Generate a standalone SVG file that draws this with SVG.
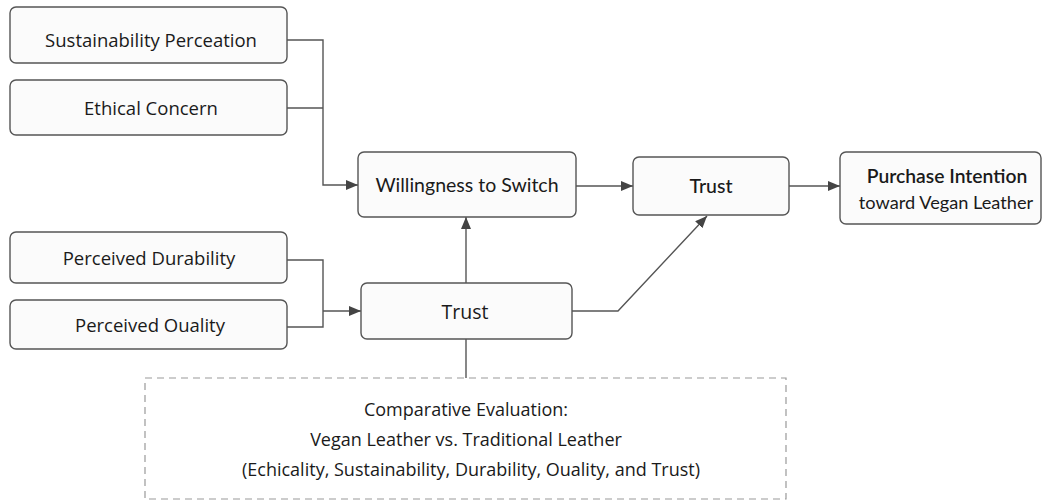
<svg xmlns="http://www.w3.org/2000/svg" width="1044" height="503" viewBox="0 0 1044 503">
  <defs>
    <marker id="arrow" viewBox="0 0 12 10" refX="12" refY="5" markerWidth="12" markerHeight="10" markerUnits="userSpaceOnUse" orient="auto">
      <path d="M0,0 L12,5 L0,10 Z" fill="#444"/>
    </marker>
    <style>
      .box { fill: #fbfbfb; stroke: #555; stroke-width: 1.4; }
      .dash { fill: #ffffff; stroke: #999; stroke-width: 1.2; stroke-dasharray: 7 5; }
      .wire { fill: none; stroke: #555; stroke-width: 1.4; }
      .side { font-family: "Open Sans", "Noto Sans", sans-serif; font-size: 18.5px; fill: #1a1a1a; text-anchor: middle; }
      .core { font-family: Lato, "Open Sans", sans-serif; font-size: 19.5px; fill: #1a1a1a; text-anchor: middle; }
      .note { font-family: "Open Sans", "Noto Sans", sans-serif; font-size: 18px; fill: #1a1a1a; text-anchor: middle; }
    </style>
  </defs>
  <rect width="1044" height="503" fill="#ffffff"/>

  <!-- connectors -->
  <g id="connectors">
    <path class="wire" d="M287,40 H323 V185 H358" marker-end="url(#arrow)"/>
    <path class="wire" d="M287,108 H323"/>
    <path class="wire" d="M287,260 H323 V327 H287"/>
    <path class="wire" d="M323,311 H361" marker-end="url(#arrow)"/>
    <path class="wire" d="M576,186 H633" marker-end="url(#arrow)"/>
    <path class="wire" d="M789,186 H840" marker-end="url(#arrow)"/>
    <path class="wire" d="M466,283 V217" marker-end="url(#arrow)"/>
    <path class="wire" d="M572,311 H618 L707,216" marker-end="url(#arrow)"/>
    <path class="wire" d="M466,339 V378"/>
  </g>

  <g id="sustainability">
    <rect class="box" x="10" y="7" width="277" height="56" rx="6"/>
    <text class="side" x="151" y="46.5">Sustainability Perceation</text>
  </g>
  <g id="ethical">
    <rect class="box" x="10" y="80" width="277" height="55" rx="6"/>
    <text class="side" x="151" y="114.5">Ethical Concern</text>
  </g>
  <g id="durability">
    <rect class="box" x="10" y="232" width="277" height="51" rx="6"/>
    <text class="side" x="149" y="264.5">Perceived Durability</text>
  </g>
  <g id="quality">
    <rect class="box" x="10" y="300" width="277" height="49" rx="6"/>
    <text class="side" x="150" y="331.5">Perceived Ouality</text>
  </g>

  <g id="willingness">
    <rect class="box" x="358" y="152" width="218" height="65" rx="6"/>
    <text class="core" x="467" y="191.5">Willingness to Switch</text>
  </g>
  <g id="trust-top">
    <rect class="box" x="633" y="157" width="156" height="58" rx="6"/>
    <text class="core" x="711" y="192.5" style="font-weight:500">Trust</text>
  </g>
  <g id="purchase">
    <rect class="box" x="840" y="152" width="201" height="72" rx="6"/>
    <text class="core" x="947" y="183" style="font-size:19.3px;font-weight:600">Purchase Intention</text>
    <text class="core" x="946" y="208.5" style="font-size:18.2px">toward Vegan Leather</text>
  </g>
  <g id="trust-bottom">
    <rect class="box" x="361" y="283" width="211" height="56" rx="6"/>
    <text class="side" x="465" y="318.5" style="font-size:19.5px">Trust</text>
  </g>

  <g id="comparison">
    <rect class="dash" x="145" y="378" width="641" height="121"/>
    <text class="note" x="466" y="416">Comparative Evaluation:</text>
    <text class="note" x="466" y="446">Vegan Leather vs. Traditional Leather</text>
    <text class="note" x="471" y="476">(Echicality, Sustainability, Durability, Ouality, and Trust)</text>
  </g>
</svg>
